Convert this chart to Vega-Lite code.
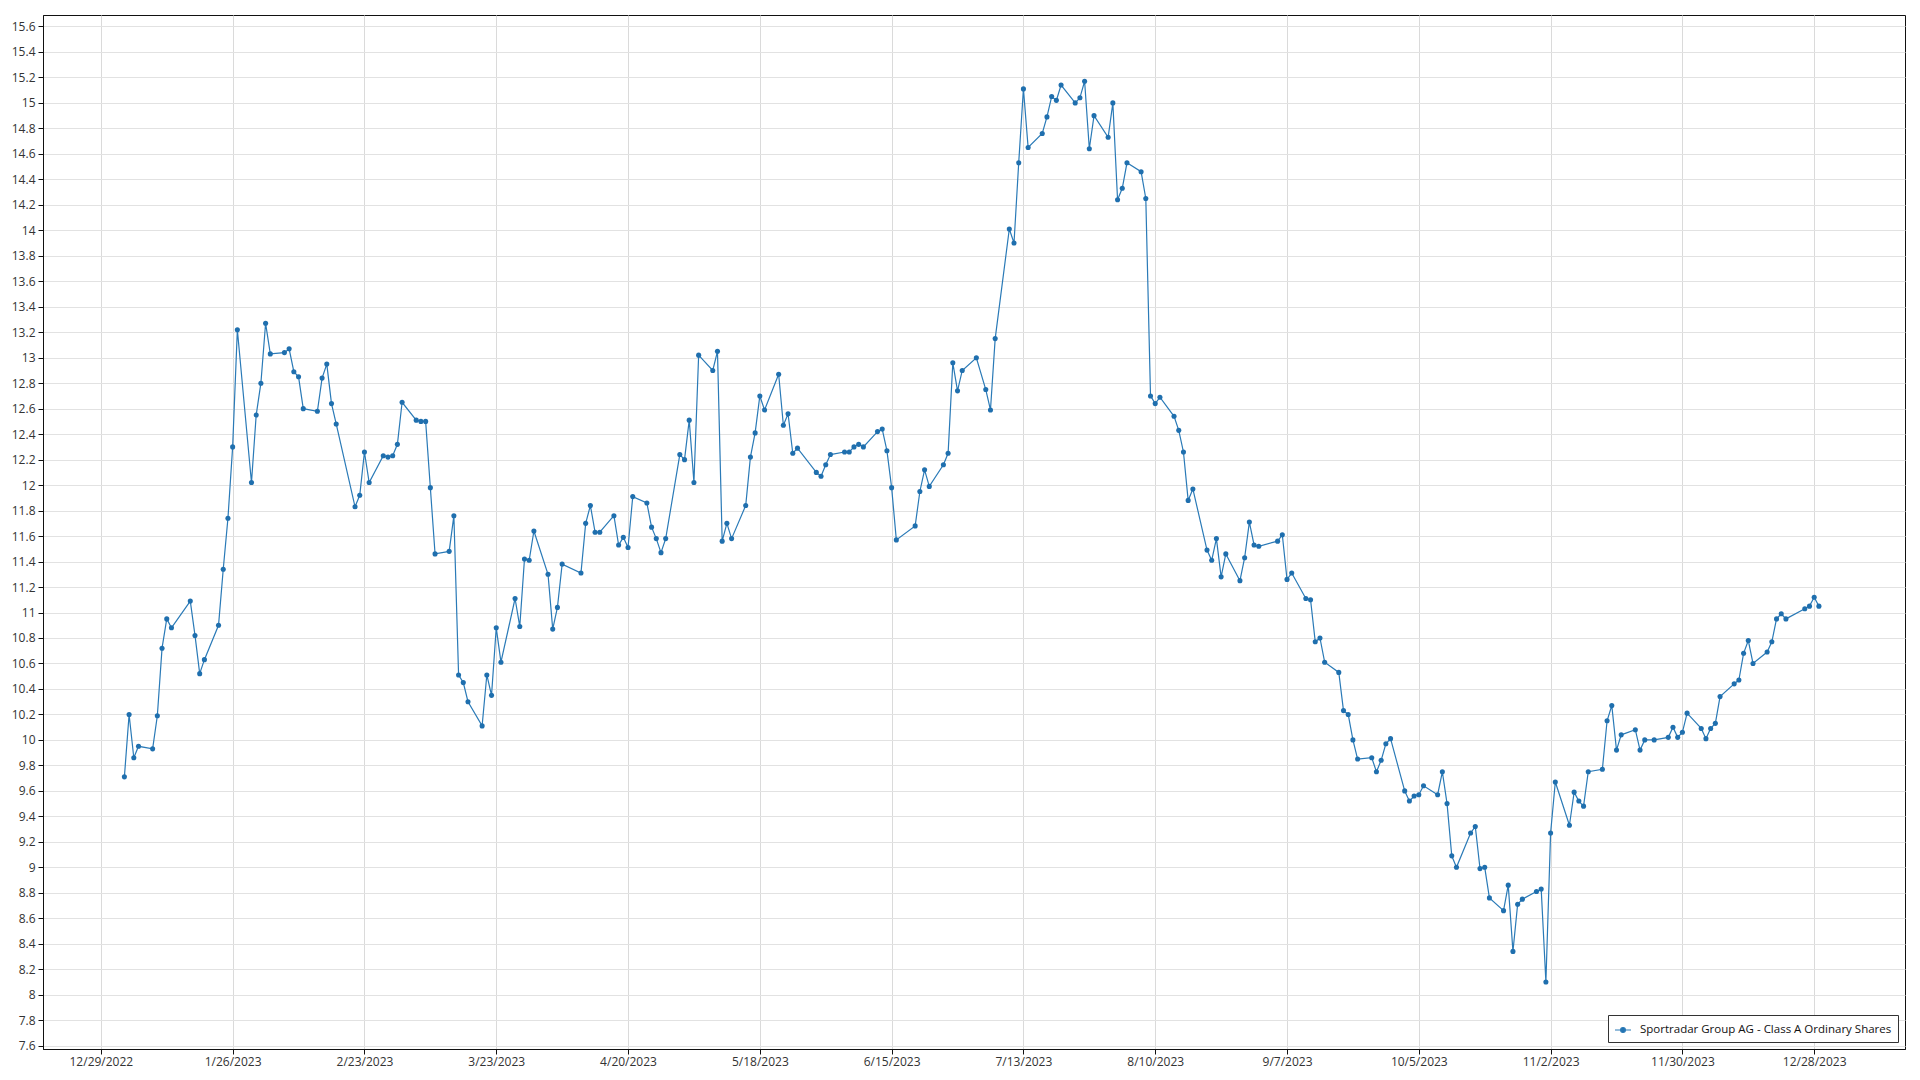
{
  "$schema": "https://vega.github.io/schema/vega-lite/v6.json",
  "width": 1862,
  "height": 1034,
  "autosize": {"type": "none"},
  "padding": {"left": 43, "top": 15, "right": 15, "bottom": 31},
  "background": "white",
  "config": {
    "view": {"stroke": "#111", "strokeWidth": 1},
    "font": "Open Sans",
    "axis": {"labelFont": "Open Sans", "labelFontSize": 12, "labelColor": "#333", "domainColor": "#111", "tickColor": "#111", "tickSize": 5, "gridColor": "#e2e2e2", "gridWidth": 1}
  },
  "data": {"values": [
    {"date": "2023-01-03", "close": 9.71}, {"date": "2023-01-04", "close": 10.20}, {"date": "2023-01-05", "close": 9.86}, {"date": "2023-01-06", "close": 9.95},
    {"date": "2023-01-09", "close": 9.93}, {"date": "2023-01-10", "close": 10.19}, {"date": "2023-01-11", "close": 10.72}, {"date": "2023-01-12", "close": 10.95},
    {"date": "2023-01-13", "close": 10.88}, {"date": "2023-01-17", "close": 11.09}, {"date": "2023-01-18", "close": 10.82}, {"date": "2023-01-19", "close": 10.52},
    {"date": "2023-01-20", "close": 10.63}, {"date": "2023-01-23", "close": 10.90}, {"date": "2023-01-24", "close": 11.34}, {"date": "2023-01-25", "close": 11.74},
    {"date": "2023-01-26", "close": 12.30}, {"date": "2023-01-27", "close": 13.22}, {"date": "2023-01-30", "close": 12.02}, {"date": "2023-01-31", "close": 12.55},
    {"date": "2023-02-01", "close": 12.80}, {"date": "2023-02-02", "close": 13.27}, {"date": "2023-02-03", "close": 13.03}, {"date": "2023-02-06", "close": 13.04},
    {"date": "2023-02-07", "close": 13.07}, {"date": "2023-02-08", "close": 12.89}, {"date": "2023-02-09", "close": 12.85}, {"date": "2023-02-10", "close": 12.60},
    {"date": "2023-02-13", "close": 12.58}, {"date": "2023-02-14", "close": 12.84}, {"date": "2023-02-15", "close": 12.95}, {"date": "2023-02-16", "close": 12.64},
    {"date": "2023-02-17", "close": 12.48}, {"date": "2023-02-21", "close": 11.83}, {"date": "2023-02-22", "close": 11.92}, {"date": "2023-02-23", "close": 12.26},
    {"date": "2023-02-24", "close": 12.02}, {"date": "2023-02-27", "close": 12.23}, {"date": "2023-02-28", "close": 12.22}, {"date": "2023-03-01", "close": 12.23},
    {"date": "2023-03-02", "close": 12.32}, {"date": "2023-03-03", "close": 12.65}, {"date": "2023-03-06", "close": 12.51}, {"date": "2023-03-07", "close": 12.50},
    {"date": "2023-03-08", "close": 12.50}, {"date": "2023-03-09", "close": 11.98}, {"date": "2023-03-10", "close": 11.46}, {"date": "2023-03-13", "close": 11.48},
    {"date": "2023-03-14", "close": 11.76}, {"date": "2023-03-15", "close": 10.51}, {"date": "2023-03-16", "close": 10.45}, {"date": "2023-03-17", "close": 10.30},
    {"date": "2023-03-20", "close": 10.11}, {"date": "2023-03-21", "close": 10.51}, {"date": "2023-03-22", "close": 10.35}, {"date": "2023-03-23", "close": 10.88},
    {"date": "2023-03-24", "close": 10.61}, {"date": "2023-03-27", "close": 11.11}, {"date": "2023-03-28", "close": 10.89}, {"date": "2023-03-29", "close": 11.42},
    {"date": "2023-03-30", "close": 11.41}, {"date": "2023-03-31", "close": 11.64}, {"date": "2023-04-03", "close": 11.30}, {"date": "2023-04-04", "close": 10.87},
    {"date": "2023-04-05", "close": 11.04}, {"date": "2023-04-06", "close": 11.38}, {"date": "2023-04-10", "close": 11.31}, {"date": "2023-04-11", "close": 11.70},
    {"date": "2023-04-12", "close": 11.84}, {"date": "2023-04-13", "close": 11.63}, {"date": "2023-04-14", "close": 11.63}, {"date": "2023-04-17", "close": 11.76},
    {"date": "2023-04-18", "close": 11.53}, {"date": "2023-04-19", "close": 11.59}, {"date": "2023-04-20", "close": 11.51}, {"date": "2023-04-21", "close": 11.91},
    {"date": "2023-04-24", "close": 11.86}, {"date": "2023-04-25", "close": 11.67}, {"date": "2023-04-26", "close": 11.58}, {"date": "2023-04-27", "close": 11.47},
    {"date": "2023-04-28", "close": 11.58}, {"date": "2023-05-01", "close": 12.24}, {"date": "2023-05-02", "close": 12.20}, {"date": "2023-05-03", "close": 12.51},
    {"date": "2023-05-04", "close": 12.02}, {"date": "2023-05-05", "close": 13.02}, {"date": "2023-05-08", "close": 12.90}, {"date": "2023-05-09", "close": 13.05},
    {"date": "2023-05-10", "close": 11.56}, {"date": "2023-05-11", "close": 11.70}, {"date": "2023-05-12", "close": 11.58}, {"date": "2023-05-15", "close": 11.84},
    {"date": "2023-05-16", "close": 12.22}, {"date": "2023-05-17", "close": 12.41}, {"date": "2023-05-18", "close": 12.70}, {"date": "2023-05-19", "close": 12.59},
    {"date": "2023-05-22", "close": 12.87}, {"date": "2023-05-23", "close": 12.47}, {"date": "2023-05-24", "close": 12.56}, {"date": "2023-05-25", "close": 12.25},
    {"date": "2023-05-26", "close": 12.29}, {"date": "2023-05-30", "close": 12.10}, {"date": "2023-05-31", "close": 12.07}, {"date": "2023-06-01", "close": 12.16},
    {"date": "2023-06-02", "close": 12.24}, {"date": "2023-06-05", "close": 12.26}, {"date": "2023-06-06", "close": 12.26}, {"date": "2023-06-07", "close": 12.30},
    {"date": "2023-06-08", "close": 12.32}, {"date": "2023-06-09", "close": 12.30}, {"date": "2023-06-12", "close": 12.42}, {"date": "2023-06-13", "close": 12.44},
    {"date": "2023-06-14", "close": 12.27}, {"date": "2023-06-15", "close": 11.98}, {"date": "2023-06-16", "close": 11.57}, {"date": "2023-06-20", "close": 11.68},
    {"date": "2023-06-21", "close": 11.95}, {"date": "2023-06-22", "close": 12.12}, {"date": "2023-06-23", "close": 11.99}, {"date": "2023-06-26", "close": 12.16},
    {"date": "2023-06-27", "close": 12.25}, {"date": "2023-06-28", "close": 12.96}, {"date": "2023-06-29", "close": 12.74}, {"date": "2023-06-30", "close": 12.90},
    {"date": "2023-07-03", "close": 13.00}, {"date": "2023-07-05", "close": 12.75}, {"date": "2023-07-06", "close": 12.59}, {"date": "2023-07-07", "close": 13.15},
    {"date": "2023-07-10", "close": 14.01}, {"date": "2023-07-11", "close": 13.90}, {"date": "2023-07-12", "close": 14.53}, {"date": "2023-07-13", "close": 15.11},
    {"date": "2023-07-14", "close": 14.65}, {"date": "2023-07-17", "close": 14.76}, {"date": "2023-07-18", "close": 14.89}, {"date": "2023-07-19", "close": 15.05},
    {"date": "2023-07-20", "close": 15.02}, {"date": "2023-07-21", "close": 15.14}, {"date": "2023-07-24", "close": 15.00}, {"date": "2023-07-25", "close": 15.04},
    {"date": "2023-07-26", "close": 15.17}, {"date": "2023-07-27", "close": 14.64}, {"date": "2023-07-28", "close": 14.90}, {"date": "2023-07-31", "close": 14.73},
    {"date": "2023-08-01", "close": 15.00}, {"date": "2023-08-02", "close": 14.24}, {"date": "2023-08-03", "close": 14.33}, {"date": "2023-08-04", "close": 14.53},
    {"date": "2023-08-07", "close": 14.46}, {"date": "2023-08-08", "close": 14.25}, {"date": "2023-08-09", "close": 12.70}, {"date": "2023-08-10", "close": 12.64},
    {"date": "2023-08-11", "close": 12.69}, {"date": "2023-08-14", "close": 12.54}, {"date": "2023-08-15", "close": 12.43}, {"date": "2023-08-16", "close": 12.26},
    {"date": "2023-08-17", "close": 11.88}, {"date": "2023-08-18", "close": 11.97}, {"date": "2023-08-21", "close": 11.49}, {"date": "2023-08-22", "close": 11.41},
    {"date": "2023-08-23", "close": 11.58}, {"date": "2023-08-24", "close": 11.28}, {"date": "2023-08-25", "close": 11.46}, {"date": "2023-08-28", "close": 11.25},
    {"date": "2023-08-29", "close": 11.43}, {"date": "2023-08-30", "close": 11.71}, {"date": "2023-08-31", "close": 11.53}, {"date": "2023-09-01", "close": 11.52},
    {"date": "2023-09-05", "close": 11.56}, {"date": "2023-09-06", "close": 11.61}, {"date": "2023-09-07", "close": 11.26}, {"date": "2023-09-08", "close": 11.31},
    {"date": "2023-09-11", "close": 11.11}, {"date": "2023-09-12", "close": 11.10}, {"date": "2023-09-13", "close": 10.77}, {"date": "2023-09-14", "close": 10.80},
    {"date": "2023-09-15", "close": 10.61}, {"date": "2023-09-18", "close": 10.53}, {"date": "2023-09-19", "close": 10.23}, {"date": "2023-09-20", "close": 10.20},
    {"date": "2023-09-21", "close": 10.00}, {"date": "2023-09-22", "close": 9.85}, {"date": "2023-09-25", "close": 9.86}, {"date": "2023-09-26", "close": 9.75},
    {"date": "2023-09-27", "close": 9.84}, {"date": "2023-09-28", "close": 9.97}, {"date": "2023-09-29", "close": 10.01}, {"date": "2023-10-02", "close": 9.60},
    {"date": "2023-10-03", "close": 9.52}, {"date": "2023-10-04", "close": 9.56}, {"date": "2023-10-05", "close": 9.57}, {"date": "2023-10-06", "close": 9.64},
    {"date": "2023-10-09", "close": 9.57}, {"date": "2023-10-10", "close": 9.75}, {"date": "2023-10-11", "close": 9.50}, {"date": "2023-10-12", "close": 9.09},
    {"date": "2023-10-13", "close": 9.00}, {"date": "2023-10-16", "close": 9.27}, {"date": "2023-10-17", "close": 9.32}, {"date": "2023-10-18", "close": 8.99},
    {"date": "2023-10-19", "close": 9.00}, {"date": "2023-10-20", "close": 8.76}, {"date": "2023-10-23", "close": 8.66}, {"date": "2023-10-24", "close": 8.86},
    {"date": "2023-10-25", "close": 8.34}, {"date": "2023-10-26", "close": 8.71}, {"date": "2023-10-27", "close": 8.75}, {"date": "2023-10-30", "close": 8.81},
    {"date": "2023-10-31", "close": 8.83}, {"date": "2023-11-01", "close": 8.10}, {"date": "2023-11-02", "close": 9.27}, {"date": "2023-11-03", "close": 9.67},
    {"date": "2023-11-06", "close": 9.33}, {"date": "2023-11-07", "close": 9.59}, {"date": "2023-11-08", "close": 9.52}, {"date": "2023-11-09", "close": 9.48},
    {"date": "2023-11-10", "close": 9.75}, {"date": "2023-11-13", "close": 9.77}, {"date": "2023-11-14", "close": 10.15}, {"date": "2023-11-15", "close": 10.27},
    {"date": "2023-11-16", "close": 9.92}, {"date": "2023-11-17", "close": 10.04}, {"date": "2023-11-20", "close": 10.08}, {"date": "2023-11-21", "close": 9.92},
    {"date": "2023-11-22", "close": 10.00}, {"date": "2023-11-24", "close": 10.00}, {"date": "2023-11-27", "close": 10.02}, {"date": "2023-11-28", "close": 10.10},
    {"date": "2023-11-29", "close": 10.02}, {"date": "2023-11-30", "close": 10.06}, {"date": "2023-12-01", "close": 10.21}, {"date": "2023-12-04", "close": 10.09},
    {"date": "2023-12-05", "close": 10.01}, {"date": "2023-12-06", "close": 10.09}, {"date": "2023-12-07", "close": 10.13}, {"date": "2023-12-08", "close": 10.34},
    {"date": "2023-12-11", "close": 10.44}, {"date": "2023-12-12", "close": 10.47}, {"date": "2023-12-13", "close": 10.68}, {"date": "2023-12-14", "close": 10.78},
    {"date": "2023-12-15", "close": 10.60}, {"date": "2023-12-18", "close": 10.69}, {"date": "2023-12-19", "close": 10.77}, {"date": "2023-12-20", "close": 10.95},
    {"date": "2023-12-21", "close": 10.99}, {"date": "2023-12-22", "close": 10.95}, {"date": "2023-12-26", "close": 11.03}, {"date": "2023-12-27", "close": 11.05},
    {"date": "2023-12-28", "close": 11.12}, {"date": "2023-12-29", "close": 11.05}
  ]},
  "encoding": {
    "x": {
      "field": "date", "type": "temporal", "title": null,
      "scale": {"type": "utc", "nice": false, "domain": [{"year": 2022, "month": 12, "date": 16, "hours": 17, "utc": true}, {"year": 2024, "month": 1, "date": 16, "hours": 7, "utc": true}]},
      "axis": {
        "labelExpr": "utcFormat(datum.value, '%-m/%-d/%Y')", "labelPadding": 2, "labelAngle": 0, "labelAlign": "center", "labelFlush": false, "labelOverlap": false,
        "gridColor": "#dadada",
        "values": [
          {"year": 2022, "month": 12, "date": 29, "utc": true}, {"year": 2023, "month": 1, "date": 26, "utc": true}, {"year": 2023, "month": 2, "date": 23, "utc": true},
          {"year": 2023, "month": 3, "date": 23, "utc": true}, {"year": 2023, "month": 4, "date": 20, "utc": true}, {"year": 2023, "month": 5, "date": 18, "utc": true},
          {"year": 2023, "month": 6, "date": 15, "utc": true}, {"year": 2023, "month": 7, "date": 13, "utc": true}, {"year": 2023, "month": 8, "date": 10, "utc": true},
          {"year": 2023, "month": 9, "date": 7, "utc": true}, {"year": 2023, "month": 10, "date": 5, "utc": true}, {"year": 2023, "month": 11, "date": 2, "utc": true},
          {"year": 2023, "month": 11, "date": 30, "utc": true}, {"year": 2023, "month": 12, "date": 28, "utc": true}
        ]
      }
    },
    "y": {
      "field": "close", "type": "quantitative", "title": null,
      "scale": {"domain": [7.574, 15.69], "nice": false, "zero": false},
      "axis": {
        "format": "~g", "labelPadding": 3, "labelFlush": false, "labelOverlap": false,
        "values": [7.6, 7.8, 8, 8.2, 8.4, 8.6, 8.8, 9, 9.2, 9.4, 9.6, 9.8, 10, 10.2, 10.4, 10.6, 10.8, 11, 11.2, 11.4, 11.6, 11.8, 12, 12.2, 12.4, 12.6, 12.8, 13, 13.2, 13.4, 13.6, 13.8, 14, 14.2, 14.4, 14.6, 14.8, 15, 15.2, 15.4, 15.6]
      }
    }
  },
  "layer": [
    {
      "mark": {"type": "line", "strokeWidth": 1.2, "interpolate": "linear"},
      "encoding": {
        "color": {
          "datum": "Sportradar Group AG - Class A Ordinary Shares",
          "scale": {"range": ["#2a7ab7"]},
          "legend": {
            "title": null, "orient": "bottom-right", "offset": 7, "padding": 6,
            "strokeColor": "#333", "fillColor": "white", "cornerRadius": 0,
            "labelFont": "Open Sans", "labelFontSize": 11.5, "labelColor": "#111", "labelOffset": 8, "labelLimit": 500,
            "symbolType": "M-1,0L1,0M-0.3,0A0.3,0.3,0,1,1,0.3,0A0.3,0.3,0,1,1,-0.3,0Z",
            "symbolSize": 256, "symbolStrokeWidth": 1.2,
            "encode": {"symbols": {"update": {"fill": {"value": "#1f6fae"}, "stroke": {"value": "#5a9ad0"}, "opacity": {"value": 1}}}}
          }
        }
      }
    },
    {
      "mark": {"type": "point", "filled": true, "size": 26, "color": "#1f6fae", "opacity": 1}
    }
  ]
}
